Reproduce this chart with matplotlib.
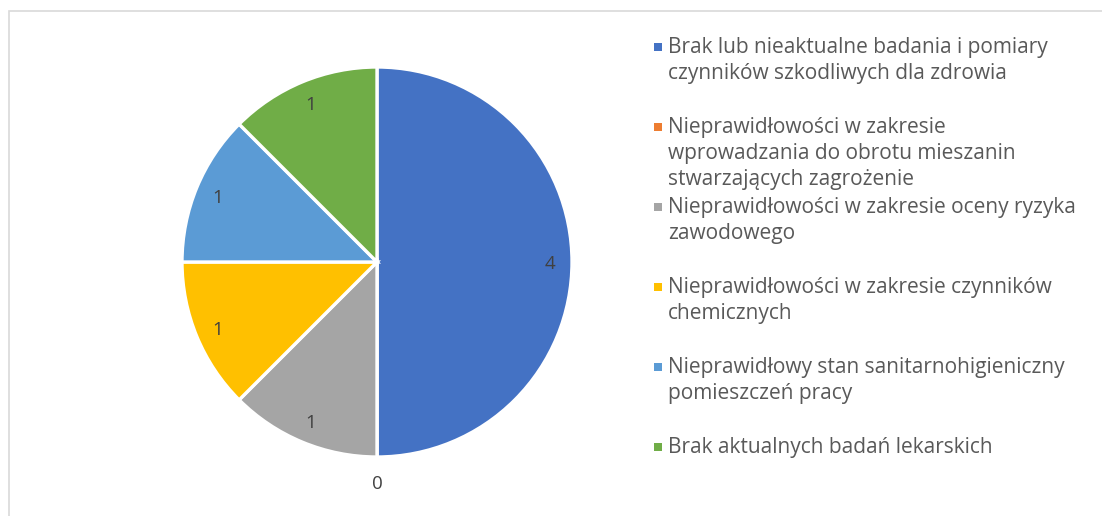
import numpy as np
import matplotlib
matplotlib.use("Agg")
import matplotlib.pyplot as plt
from matplotlib.patches import Rectangle

# DATA:
categories = [
    "Brak lub nieaktualne badania i pomiary\nczynników szkodliwych dla zdrowia",
    "Nieprawidłowości w zakresie\nwprowadzania do obrotu mieszanin\nstwarzających zagrożenie",
    "Nieprawidłowości w zakresie oceny ryzyka\nzawodowego",
    "Nieprawidłowości w zakresie czynników\nchemicznych",
    "Nieprawidłowy stan sanitarnohigieniczny\npomieszczeń pracy",
    "Brak aktualnych badań lekarskich",
]
values = [4, 0, 1, 1, 1, 1]
colors = ["#4472C4", "#ED7D31", "#A5A5A5", "#FFC000", "#5B9BD5", "#70AD47"]

TEXT_COLOR = "#595959"
LABEL_COLOR = "#404040"
FONT = "Open Sans"

W, H = 1102, 516
fig = plt.figure(figsize=(W / 100, H / 100), dpi=100)

# chart area border (only top/left visible in the original crop)
fig.patches.append(Rectangle((8.5 / W, -0.1), 1.2, (H - 11 + 0.1 * H) / H,
                             transform=fig.transFigure, fill=False,
                             edgecolor="#D9D9D9", linewidth=1.2))

# pie axes: centre (377, 262) px, radius 195 px
cx, cy, r = 377, 262, 195
span = 1.25 * r
ax = fig.add_axes([(cx - span) / W, (H - cy - span) / H, 2 * span / W, 2 * span / H])
wedges, _ = ax.pie(values, colors=colors, startangle=90, counterclock=False,
                   wedgeprops=dict(edgecolor="white", linewidth=2.4))
ax.set_xlim(-1.25, 1.25)
ax.set_ylim(-1.25, 1.25)
ax.set_aspect("equal")

for w, v in zip(wedges, values):
    mid = np.deg2rad((w.theta1 + w.theta2) / 2)
    d = 0.885 if v > 0 else 1.13
    ax.text(d * np.cos(mid), d * np.sin(mid) - 0.01, str(v), ha="center", va="center",
            fontsize=13.5, color=LABEL_COLOR, family=FONT)

# legend drawn by hand: entries evenly spaced like the original
leg_x = 668
first_y = 47
step = 80
line_h = 26.5
box = 8
for i, (lab, col) in enumerate(zip(categories, colors)):
    y = first_y + step * i
    fig.patches.append(Rectangle(((leg_x - 14) / W, (H - y - box / 2) / H), box / W, box / H,
                                 transform=fig.transFigure, facecolor=col, edgecolor="none"))
    for j, line in enumerate(lab.split("\n")):
        fig.text(leg_x / W, (H - y - j * line_h) / H, line, ha="left", va="center",
                 fontsize=15, color=TEXT_COLOR, family=FONT)

fig.savefig("out.png", dpi=100)
